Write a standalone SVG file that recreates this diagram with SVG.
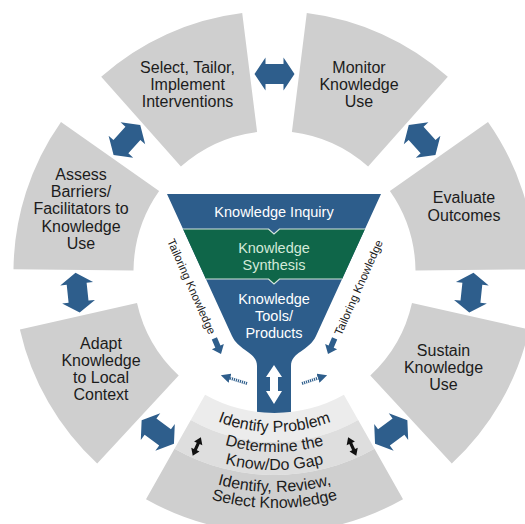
<svg xmlns="http://www.w3.org/2000/svg" width="525" height="524" viewBox="0 0 525 524">
<defs>
<style>
.seg{fill:#cfcfcf}
.lbl{font-family:"Liberation Sans",Arial,sans-serif;font-size:16px;fill:#1c1c1c;text-anchor:middle}
.fl{font-family:"Liberation Sans",Arial,sans-serif;font-size:14.5px;fill:#ffffff;text-anchor:middle}
.fg{fill:#d3ead9}
.tk{font-family:"Liberation Sans",Arial,sans-serif;font-size:11.5px;fill:#222222;text-anchor:middle}
.big{fill:#2e5e8c}
.blk{fill:#111111}
.sep{fill:none;stroke:#d6e6dc;stroke-width:1.2}
.dot{fill:none;stroke:#2e5e8c;stroke-width:3;stroke-dasharray:1.2 0.9}
</style>
<path id="dbl" d="M -20 0 L -9 -16.5 L -9 -10 L 9 -10 L 9 -16.5 L 20 0 L 9 16.5 L 9 10 L -9 10 L -9 16.5 Z"/>
<path id="sdbl" d="M 0 -10 L 4.5 -3.5 L 1.6 -3.5 L 1.6 3.5 L 4.5 3.5 L 0 10 L -4.5 3.5 L -1.6 3.5 L -1.6 -3.5 L -4.5 -3.5 Z"/>
<path id="sarr" d="M 0 0 L -8 -6.5 L -8 -2.8 L -17 -2.8 L -17 2.8 L -8 2.8 L -8 6.5 Z"/>
<marker id="dh" viewBox="0 0 10 10" refX="0" refY="5" markerWidth="3.2" markerHeight="3.2" orient="auto"><path d="M0 0 L10 5 L0 10 Z" fill="#2e5e8c"/></marker>
<clipPath id="fc"><path d="M167 194 L381 194 L316 336 C309 351 291 352 291 366 L291 416 L257 416 L257 366 C257 352 239 351 232 336 Z"/></clipPath>
<path id="a160" d="M 135.94 352 A 160 160 0 0 0 413.06 352"/>
<path id="a180" d="M 118.62 362 A 180 180 0 0 0 430.38 362"/>
<path id="a198" d="M 103.03 371 A 198 198 0 0 0 445.97 371"/>
<path id="a220" d="M 83.98 382 A 220 220 0 0 0 465.02 382"/>
<path id="a236" d="M 70.12 390 A 236 236 0 0 0 478.88 390"/>
</defs>
<rect width="525" height="524" fill="#ffffff"/>

<g id="select">
<path class="seg" d="M 101.2 76.8 A 261 261 0 0 1 242.2 13.0 L 257.1 132.1 A 141 141 0 0 0 180.9 166.6 Z"/>
<text class="lbl" x="187.5" y="73">Select, Tailor,</text>
<text class="lbl" x="187.5" y="90">Implement</text>
<text class="lbl" x="187.5" y="107">Interventions</text>
</g>
<g id="monitor">
<path class="seg" d="M 306.8 13.0 A 261 261 0 0 1 447.8 76.8 L 368.1 166.6 A 141 141 0 0 0 291.9 132.1 Z"/>
<text class="lbl" x="359" y="73">Monitor</text>
<text class="lbl" x="359" y="90">Knowledge</text>
<text class="lbl" x="359" y="107">Use</text>
</g>
<g id="evaluate">
<path class="seg" d="M 488.0 121.9 A 261 261 0 0 1 535.5 269.3 L 415.5 270.5 A 141 141 0 0 0 389.9 190.9 Z"/>
<text class="lbl" x="464" y="203">Evaluate</text>
<text class="lbl" x="464" y="221">Outcomes</text>
</g>
<g id="sustain">
<path class="seg" d="M 529.1 329.4 A 261 261 0 0 1 451.8 463.5 L 370.3 375.5 A 141 141 0 0 0 412.0 303.0 Z"/>
<text class="lbl" x="443.5" y="356">Sustain</text>
<text class="lbl" x="443.5" y="373">Knowledge</text>
<text class="lbl" x="443.5" y="390">Use</text>
</g>
<g id="adapt">
<path class="seg" d="M 97.2 463.5 A 261 261 0 0 1 19.9 329.4 L 137.0 303.0 A 141 141 0 0 0 178.7 375.5 Z"/>
<text class="lbl" x="101" y="349">Adapt</text>
<text class="lbl" x="101" y="366">Knowledge</text>
<text class="lbl" x="101" y="383">to Local</text>
<text class="lbl" x="101" y="400">Context</text>
</g>
<g id="assess">
<path class="seg" d="M 13.5 269.3 A 261 261 0 0 1 61.0 121.9 L 159.1 190.9 A 141 141 0 0 0 133.5 270.5 Z"/>
<text class="lbl" x="81" y="180">Assess</text>
<text class="lbl" x="81" y="197.2">Barriers/</text>
<text class="lbl" x="81" y="214.4">Facilitators to</text>
<text class="lbl" x="81" y="231.6">Knowledge</text>
<text class="lbl" x="81" y="248.8">Use</text>
</g>

<g id="funnel">
<path d="M167 194 L381 194 L316 336 C309 351 291 352 291 366 L291 416 L257 416 L257 366 C257 352 239 351 232 336 Z" fill="#2d5d8b"/>
<polygon points="150,229 268.5,229 274,234 279.5,229 400,229 400,279 279.5,279 274,284 268.5,279 150,279" fill="#0f6649" clip-path="url(#fc)"/>
<polyline class="sep" points="150,229 268.5,229 274,234 279.5,229 400,229" clip-path="url(#fc)"/>
<polyline class="sep" points="150,279 268.5,279 274,284 279.5,279 400,279" clip-path="url(#fc)"/>
<text class="fl" x="274" y="217">Knowledge Inquiry</text>
<text class="fl fg" x="274" y="253">Knowledge</text>
<text class="fl fg" x="274" y="270">Synthesis</text>
<text class="fl" x="274" y="304">Knowledge</text>
<text class="fl" x="274" y="321">Tools/</text>
<text class="fl" x="274" y="338">Products</text>
<path d="M 274 365 L 282 377 L 278 377 L 278 391 L 282 391 L 274 404 L 266 391 L 270 391 L 270 377 L 266 377 Z" fill="#ffffff"/>
</g>

<g id="bottom">
<path d="M 205.1 394.7 A 141 141 0 0 0 343.9 394.7 L 358.2 420.0 A 170 170 0 0 1 190.8 420.0 Z" fill="#ececec"/>
<path d="M 190.8 420.0 A 170 170 0 0 0 358.2 420.0 L 374.5 448.7 A 203 203 0 0 1 174.5 448.7 Z" fill="#dedede"/>
<path d="M 174.5 448.7 A 203 203 0 0 0 374.5 448.7 L 403.0 499.2 A 261 261 0 0 1 146.0 499.2 Z" fill="#cfcfcf"/>
<text class="lbl"><textPath href="#a160" startOffset="50%">Identify Problem</textPath></text>
<text class="lbl"><textPath href="#a180" startOffset="50%">Determine the</textPath></text>
<text class="lbl"><textPath href="#a198" startOffset="50%">Know/Do Gap</textPath></text>
<text class="lbl"><textPath href="#a220" startOffset="50%">Identify, Review,</textPath></text>
<text class="lbl"><textPath href="#a236" startOffset="50%">Select Knowledge</textPath></text>
</g>

<g id="tailoring">
<text class="tk" transform="translate(191.5,286.5) rotate(66)" y="4">Tailoring Knowledge</text>
<text class="tk" transform="translate(358.5,287.5) rotate(-66)" y="4">Tailoring Knowledge</text>
</g>

<g id="connectors">
<use href="#dbl" class="big" transform="translate(274.5,74) rotate(0)"/>
<use href="#dbl" class="big" transform="translate(422.1,140) rotate(48.2)"/>
<use href="#dbl" class="big" transform="translate(471.4,292.7) rotate(96)"/>
<use href="#dbl" class="big" transform="translate(391.2,432) rotate(143.9)"/>
<use href="#dbl" class="big" transform="translate(157.8,432) rotate(216.1)"/>
<use href="#dbl" class="big" transform="translate(77.6,292.7) rotate(264)"/>
<use href="#dbl" class="big" transform="translate(126.9,140) rotate(311.8)"/>
<use href="#sdbl" class="blk" transform="translate(196.8,446.5) rotate(24)"/>
<use href="#sdbl" class="blk" transform="translate(352.2,446.5) rotate(-24)"/>
<use href="#sarr" class="big" transform="translate(221,354) rotate(67)"/>
<use href="#sarr" class="big" transform="translate(328,354) rotate(113)"/>
<path class="dot" d="M 247 383.5 L 230 378.2" marker-end="url(#dh)"/>
<path class="dot" d="M 302 383.5 L 318 378.2" marker-end="url(#dh)"/>
</g>
</svg>
